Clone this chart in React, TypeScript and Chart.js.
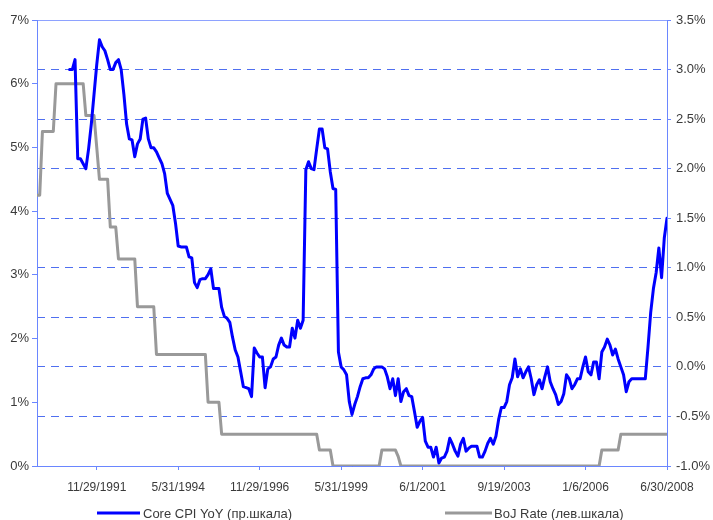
import React, { useEffect, useRef } from 'react';
import { Chart, registerables } from 'chart.js';

Chart.register(...registerables);

// Month index 0 = first observation; 233 observations in total
const POINT_COUNT = 233;
const TICK_INDEX = [22, 52, 82, 112, 142, 172, 202, 232];
const TICK_LABELS = ['11/29/1991', '5/31/1994', '11/29/1996', '5/31/1999', '6/1/2001', '9/19/2003', '1/6/2006', '6/30/2008'];
const SERIES_NAMES = ['Core CPI YoY (пр.шкала)', 'BoJ Rate (лев.шкала)'];

// Core CPI YoY, % (right scale)
const CORE_CPI: (number | null)[] = [
  null, null, null, null, null, null, null, null, null, null,
  null, null, 3.0, 3.0, 3.1, 2.1, 2.1, 2.05, 2.0, 2.2,
  2.45, 2.75, 3.05, 3.3, 3.23, 3.19, 3.1, 3.0, 3.0, 3.07,
  3.1, 3.0, 2.75, 2.45, 2.3, 2.29, 2.12, 2.25, 2.3, 2.5,
  2.51, 2.3, 2.21, 2.21, 2.17, 2.11, 2.05, 1.95, 1.75, 1.69,
  1.63, 1.45, 1.22, 1.21, 1.21, 1.21, 1.11, 1.1, 0.85, 0.8,
  0.88, 0.89, 0.89, 0.93, 0.99, 0.79, 0.79, 0.79, 0.6, 0.51,
  0.49, 0.45, 0.3, 0.17, 0.1, -0.05, -0.2, -0.21, -0.22, -0.3,
  0.19, 0.14, 0.1, 0.1, -0.21, -0.02, 0.0, 0.08, 0.1, 0.22,
  0.29, 0.22, 0.2, 0.2, 0.39, 0.29, 0.47, 0.39, 0.47, 1.99,
  2.07, 2.0, 1.99, 2.2, 2.4, 2.4, 2.21, 2.2, 1.97, 1.8,
  1.79, 0.15, 0.0, -0.03, -0.08, -0.35, -0.48, -0.38, -0.3, -0.2,
  -0.12, -0.11, -0.11, -0.08, -0.02, 0.0, 0.0, 0.0, -0.02, -0.1,
  -0.22, -0.12, -0.29, -0.12, -0.35, -0.25, -0.22, -0.29, -0.3, -0.45,
  -0.61, -0.55, -0.51, -0.75, -0.81, -0.81, -0.91, -0.81, -0.97, -0.92,
  -0.91, -0.85, -0.72, -0.78, -0.85, -0.9, -0.78, -0.72, -0.85, -0.82,
  -0.8, -0.8, -0.8, -0.91, -0.91, -0.85, -0.77, -0.72, -0.78, -0.7,
  -0.53, -0.41, -0.41, -0.35, -0.18, -0.11, 0.08, -0.1, -0.02, -0.11,
  -0.05, 0.0, -0.12, -0.28, -0.18, -0.13, -0.22, -0.1, 0.0, -0.15,
  -0.22, -0.28, -0.38, -0.35, -0.27, -0.08, -0.12, -0.22, -0.18, -0.12,
  -0.12, 0.0, 0.1, -0.05, -0.08, 0.05, 0.05, -0.12, 0.15, 0.2,
  0.28, 0.22, 0.12, 0.18, 0.08, 0.0, -0.08, -0.25, -0.15, -0.12,
  -0.12, -0.12, -0.12, -0.12, -0.12, 0.2, 0.55, 0.79, 0.95, 1.2,
  0.9, 1.3, 1.5,
];

// BoJ policy rate, % (left scale)
const BOJ_RATE: number[] = [
  4.25, 4.25, 5.25, 5.25, 5.25, 5.25, 5.25, 6.0, 6.0, 6.0,
  6.0, 6.0, 6.0, 6.0, 6.0, 6.0, 6.0, 6.0, 5.5, 5.5,
  5.5, 5.5, 5.0, 4.5, 4.5, 4.5, 4.5, 3.75, 3.75, 3.75,
  3.25, 3.25, 3.25, 3.25, 3.25, 3.25, 3.25, 2.5, 2.5, 2.5,
  2.5, 2.5, 2.5, 2.5, 1.75, 1.75, 1.75, 1.75, 1.75, 1.75,
  1.75, 1.75, 1.75, 1.75, 1.75, 1.75, 1.75, 1.75, 1.75, 1.75,
  1.75, 1.75, 1.75, 1.0, 1.0, 1.0, 1.0, 1.0, 0.5, 0.5,
  0.5, 0.5, 0.5, 0.5, 0.5, 0.5, 0.5, 0.5, 0.5, 0.5,
  0.5, 0.5, 0.5, 0.5, 0.5, 0.5, 0.5, 0.5, 0.5, 0.5,
  0.5, 0.5, 0.5, 0.5, 0.5, 0.5, 0.5, 0.5, 0.5, 0.5,
  0.5, 0.5, 0.5, 0.5, 0.25, 0.25, 0.25, 0.25, 0.25, 0.0,
  0.0, 0.0, 0.0, 0.0, 0.0, 0.0, 0.0, 0.0, 0.0, 0.0,
  0.0, 0.0, 0.0, 0.0, 0.0, 0.0, 0.0, 0.25, 0.25, 0.25,
  0.25, 0.25, 0.25, 0.15, 0.0, 0.0, 0.0, 0.0, 0.0, 0.0,
  0.0, 0.0, 0.0, 0.0, 0.0, 0.0, 0.0, 0.0, 0.0, 0.0,
  0.0, 0.0, 0.0, 0.0, 0.0, 0.0, 0.0, 0.0, 0.0, 0.0,
  0.0, 0.0, 0.0, 0.0, 0.0, 0.0, 0.0, 0.0, 0.0, 0.0,
  0.0, 0.0, 0.0, 0.0, 0.0, 0.0, 0.0, 0.0, 0.0, 0.0,
  0.0, 0.0, 0.0, 0.0, 0.0, 0.0, 0.0, 0.0, 0.0, 0.0,
  0.0, 0.0, 0.0, 0.0, 0.0, 0.0, 0.0, 0.0, 0.0, 0.0,
  0.0, 0.0, 0.0, 0.0, 0.0, 0.0, 0.0, 0.0, 0.25, 0.25,
  0.25, 0.25, 0.25, 0.25, 0.25, 0.5, 0.5, 0.5, 0.5, 0.5,
  0.5, 0.5, 0.5, 0.5, 0.5, 0.5, 0.5, 0.5, 0.5, 0.5,
  0.5, 0.5, 0.5,
];

const CPI_COLOR = '#0000ff';
const BOJ_COLOR = '#999999';
const AXIS_COLOR = '#6a86ff';
const GRID_COLOR = '#4f6ff0';
const TEXT_COLOR = '#3a3a3a';
const FONT_FAMILY = '"Liberation Sans", Arial, sans-serif';

const toPoints = (arr: (number | null)[]) =>
  arr.map((v, i) => (v === null ? null : { x: i, y: v })).filter((p) => p !== null);

const legendPlugin = {
  id: 'bottomLegend',
  afterDraw(chart: any) {
    const ctx = chart.ctx;
    const y = 513;
    const items = [
      { x0: 97, x1: 140, tx: 143, color: CPI_COLOR, text: SERIES_NAMES[0] },
      { x0: 445, x1: 492, tx: 494, color: BOJ_COLOR, text: SERIES_NAMES[1] },
    ];
    ctx.save();
    ctx.font = `13px ${FONT_FAMILY}`;
    ctx.textBaseline = 'middle';
    ctx.textAlign = 'left';
    items.forEach((it) => {
      ctx.strokeStyle = it.color;
      ctx.lineWidth = 3;
      ctx.beginPath();
      ctx.moveTo(it.x0, y);
      ctx.lineTo(it.x1, y);
      ctx.stroke();
      ctx.fillStyle = TEXT_COLOR;
      ctx.fillText(it.text, it.tx, y + 1);
    });
    ctx.restore();
  },
};

export default function App() {
  const canvasRef = useRef<HTMLCanvasElement | null>(null);

  useEffect(() => {
    const canvas = canvasRef.current;
    if (!canvas) return;
    const chart = new Chart(canvas, {
      type: 'line',
      data: {
        datasets: [
          {
            label: SERIES_NAMES[0],
            data: toPoints(CORE_CPI) as any,
            yAxisID: 'yR',
            borderColor: CPI_COLOR,
            backgroundColor: CPI_COLOR,
            borderWidth: 3,
            pointRadius: 0,
            tension: 0,
            borderJoinStyle: 'round',
            borderCapStyle: 'round',
          },
          {
            label: SERIES_NAMES[1],
            data: toPoints(BOJ_RATE) as any,
            yAxisID: 'yL',
            borderColor: BOJ_COLOR,
            backgroundColor: BOJ_COLOR,
            borderWidth: 3,
            pointRadius: 0,
            tension: 0,
            borderJoinStyle: 'round',
          },
        ],
      },
      options: {
        responsive: false,
        animation: false,
        devicePixelRatio: 1,
        parsing: false as any,
        layout: { padding: { left: 0, right: 0, top: 20, bottom: 24 } },
        plugins: { legend: { display: false }, tooltip: { enabled: false } },
        scales: {
          x: {
            type: 'linear',
            position: 'bottom',
            min: 0,
            max: POINT_COUNT - 1,
            afterBuildTicks: (scale: any) => {
              scale.ticks = TICK_INDEX.map((v) => ({ value: v }));
            },
            afterFit: (scale: any) => {
              scale.height = 30;
            },
            ticks: {
              autoSkip: false,
              maxRotation: 0,
              padding: 10,
              color: TEXT_COLOR,
              font: { family: FONT_FAMILY, size: 12 },
              callback: (v: any) => {
                const k = TICK_INDEX.indexOf(Number(v));
                return k >= 0 ? TICK_LABELS[k] : '';
              },
            },
            grid: { drawOnChartArea: false, drawTicks: true, tickLength: 4, color: AXIS_COLOR },
            border: { color: AXIS_COLOR, width: 1 },
          },
          yL: {
            type: 'linear',
            position: 'left',
            min: 0,
            max: 7,
            afterFit: (scale: any) => {
              scale.width = 37;
            },
            ticks: {
              stepSize: 1,
              padding: 3,
              color: TEXT_COLOR,
              font: { family: FONT_FAMILY, size: 13 },
              callback: (v: any) => `${v}%`,
            },
            grid: { drawOnChartArea: false, drawTicks: true, tickLength: 5, color: AXIS_COLOR },
            border: { color: AXIS_COLOR, width: 1 },
          },
          yR: {
            type: 'linear',
            position: 'right',
            min: -1,
            max: 3.5,
            afterFit: (scale: any) => {
              scale.width = 46;
            },
            ticks: {
              stepSize: 0.5,
              padding: 5,
              color: TEXT_COLOR,
              font: { family: FONT_FAMILY, size: 13 },
              callback: (v: any) => `${Number(v).toFixed(1)}%`,
            },
            grid: {
              drawOnChartArea: true,
              drawTicks: true,
              tickLength: 4,
              color: (c: any) => (c.tick && c.tick.value >= 3.5 ? '#8ea2ff' : GRID_COLOR),
              tickColor: AXIS_COLOR,
              tickBorderDash: [],
            },
            border: {
              color: AXIS_COLOR,
              width: 1,
              dash: (c: any) => (c.tick && c.tick.value >= 3.5 ? [] : [8, 6]),
            } as any,
          },
        },
      },
      plugins: [legendPlugin],
    });
    return () => chart.destroy();
  }, []);

  return (
    <div style={{ position: 'absolute', left: 0, top: 0, width: 713, height: 520, background: '#ffffff' }}>
      <canvas ref={canvasRef} width={713} height={520} style={{ display: 'block' }} />
    </div>
  );
}
